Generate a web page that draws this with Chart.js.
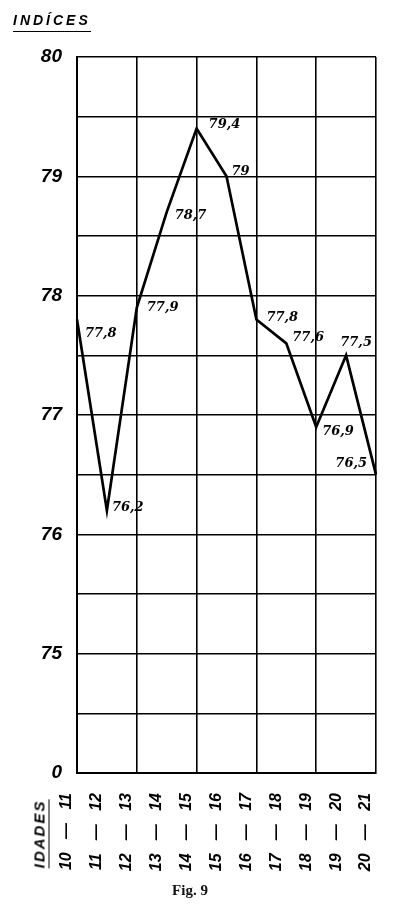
<!DOCTYPE html>
<html><head><meta charset="utf-8">
<script src="https://cdn.jsdelivr.net/npm/chart.js@4/dist/chart.umd.min.js"></script>
<style>
html,body{margin:0;padding:0;background:#fff;}
#wrap{position:relative;width:400px;height:905px;overflow:hidden;}
canvas{position:absolute;left:0;top:0;}
.t{position:absolute;font-family:"Liberation Sans",sans-serif;font-style:italic;font-weight:bold;color:#000;white-space:nowrap;}
</style></head><body>
<div id="wrap">
<canvas id="c" width="400" height="905"></canvas>
<div class="t" style="left:13px;top:13px;font-size:14px;letter-spacing:3px;border-bottom:1.5px solid #000;padding-bottom:3px;line-height:15px;">INDÍCES</div>
<div class="t" style="left:41px;top:834px;font-size:15px;letter-spacing:2px;border-bottom:1.5px solid #000;padding-bottom:2px;line-height:14px;transform:translate(-50%,-50%) rotate(-90deg);">IDADES</div>
<div style="position:absolute;left:0;width:380px;text-align:center;top:882px;font-family:'Liberation Serif',serif;font-size:15px;font-weight:bold;color:#111;">Fig. 9</div>
</div>
<script>
// ---- data ----
const categories = ['10 — 11','11 — 12','12 — 13','13 — 14','14 — 15','15 — 16','16 — 17','17 — 18','18 — 19','19 — 20','20 — 21'];
const indices = [77.8, 76.2, 77.9, 78.7, 79.4, 79, 77.8, 77.6, 76.9, 77.5, 76.5];
const yTickValues = [74, 75, 76, 77, 78, 79, 80];
const yTickLabels = ['0', '75', '76', '77', '78', '79', '80'];

// label placement (style): [dx, dy, align]
const labelPlacement = [
  [8, 14, 'left'], [5, -3, 'left'], [10, 0, 'left'], [8, 3, 'left'],
  [12, -4, 'left'], [5, -5, 'left'], [10, -2, 'left'], [6, -6, 'left'],
  [6, 5, 'left'], [10, -13, 'center'], [-9, -11, 'right']
];

const pointLabels = {
  id: 'pointLabels',
  afterDatasetsDraw(chart) {
    const ctx = chart.ctx;
    const meta = chart.getDatasetMeta(0);
    ctx.save();
    ctx.fillStyle = '#000';
    ctx.font = 'italic bold 13px "DejaVu Serif", serif';
    ctx.textBaseline = 'middle';
    meta.data.forEach((pt, i) => {
      const p = labelPlacement[i];
      ctx.textAlign = p[2];
      ctx.fillText(String(indices[i]).replace('.', ','), pt.x + p[0], pt.y + p[1]);
    });
    ctx.restore();
  }
};

new Chart(document.getElementById('c'), {
  type: 'line',
  data: {
    labels: categories,
    datasets: [{
      data: indices,
      borderColor: '#000',
      borderWidth: 2.7,
      pointRadius: 0,
      tension: 0,
      fill: false
    }]
  },
  options: {
    responsive: false,
    animation: false,
    layout: { padding: { top: 57, right: 24, left: 0, bottom: 0 } },
    plugins: { legend: { display: false }, tooltip: { enabled: false } },
    scales: {
      x: {
        type: 'category',
        offset: false,
        border: { display: true, color: '#000', width: 2 },
        grid: {
          drawTicks: false,
          lineWidth: 1.6,
          color: (c) => (c.index % 2 === 0 ? '#000' : 'rgba(0,0,0,0)')
        },
        ticks: {
          autoSkip: false,
          minRotation: 90,
          maxRotation: 90,
          padding: 20,
          labelOffset: -10,
          color: '#000',
          font: { family: '"Liberation Sans", sans-serif', size: 16, style: 'italic', weight: 'bold' },
          callback: function (v, i) { return categories[i].replace(' — ', '   —   '); }
        },
        afterFit: (s) => { s.height = 132; s.paddingLeft = 0; s.paddingRight = 0; }
      },
      y: {
        min: 74,
        max: 80,
        border: { display: true, color: '#000', width: 2 },
        grid: { drawTicks: false, lineWidth: 1.6, color: '#000' },
        ticks: {
          stepSize: 0.5,
          autoSkip: false,
          padding: 15,
          color: '#000',
          font: { family: '"Liberation Sans", sans-serif', size: 19, style: 'italic', weight: 'bold' },
          callback: (v) => {
            const k = yTickValues.indexOf(v);
            return k >= 0 ? yTickLabels[k] : '';
          }
        },
        afterFit: (s) => { s.width = 77; s.paddingTop = 0; s.paddingBottom = 0; }
      }
    }
  },
  plugins: [pointLabels]
});
</script>
</body></html>
